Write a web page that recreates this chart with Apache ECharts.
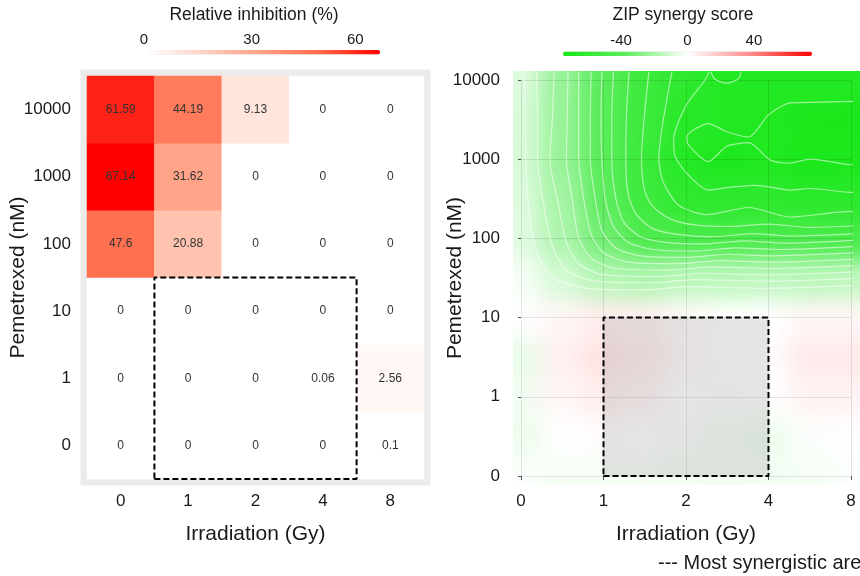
<!DOCTYPE html>
<html>
<head>
<meta charset="utf-8">
<script src="https://cdn.jsdelivr.net/npm/echarts@6/dist/echarts.min.js"></script>
<style>
  html, body { margin: 0; padding: 0; background: #ffffff; width: 860px; height: 576px; overflow: hidden; }
  #surfaceClip { position: absolute; left: 513px; top: 71px; width: 347px; height: 414px; overflow: hidden; }
  #surface { position: absolute; left: -513px; top: -71px; width: 960px; height: 576px; filter: blur(11px); }
  #main { position: absolute; left: 0; top: 0; width: 860px; height: 576px; }
</style>
</head>
<body>
<div id="surfaceClip"><div id="surface"></div></div>
<div id="main"></div>
<script>
// ---- dose levels ----
const irradiation = ['0', '1', '2', '4', '8'];              // Gy
const pemetrexed = ['0', '1', '10', '100', '1000', '10000'];  // nM

// ---- relative inhibition (%), rows = pemetrexed (low -> high), cols = irradiation ----
const inhibitionRow0 = [0, 0, 0, 0, 0.1];
const inhibitionRow1 = [0, 0, 0, 0.06, 2.56];
const inhibitionRow10 = [0, 0, 0, 0, 0];
const inhibitionRow100 = [47.6, 20.88, 0, 0, 0];
const inhibitionRow1000 = [67.14, 31.62, 0, 0, 0];
const inhibitionRow10000 = [61.59, 44.19, 9.13, 0, 0];
const inhibition = [inhibitionRow0, inhibitionRow1, inhibitionRow10, inhibitionRow100, inhibitionRow1000, inhibitionRow10000];
const inhibitionTicks = [0, 30, 60];
const inhibitionColors = ['#ffffff', '#ffcfbf', '#ff9e81', '#ff6746', '#ff0000'];

// ---- ZIP synergy landscape, sampled every half dose step ----
const zipGridX = ['-0.5', '0', '0.5', '1', '1.5', '2', '2.5', '3', '3.5', '4', '4.5'];
const zipGridY = ['-0.5', '0', '0.5', '1', '1.5', '2', '2.5', '3', '3.5', '4', '4.5', '5', '5.5'];
const zipScores = [
  [0, -1, -3, -1, -3, -1, -3, -1, -3, 0, 0],
  [0, -1, -2, -2, -2, -3, -3, -3, -2, -1, -1],
  [-1, -4, 0, 1, 0, -1, -3, -4, -1, 0, 0],
  [-1, -3, 3, 6, 4, 0, -1, 0, 4, 4, 4],
  [-3, -5, 5, 9, 7, 2, 0, 1, 7, 7, 7],
  [0, 0, 3, 6, 5, 2, 0, 0, 3, 3, 3],
  [0, -2, -10, -17, -19, -16, -16, -15, -16, -15, -15],
  [-1, -7, -19, -33, -46, -48, -49, -48, -48, -49, -49],
  [-1, -8, -21, -38, -54, -62, -63, -63, -64, -64, -64],
  [-2, -9, -24, -41, -56, -67, -72, -70, -73, -72, -72],
  [-2, -9, -24, -41, -55, -66, -68, -70, -72, -73, -73],
  [-2, -8, -24, -40, -54, -62, -69, -68, -68, -68, -68],
  [-2, -8, -24, -40, -54, -62, -69, -68, -68, -68, -68]
];
const synergyRange = [-75, 75];
const synergyTicks = [-40, 0, 40];
const synergyColors = ['#16e816', '#5eec5e', '#ffffff', '#ff8c8c', '#ff0000'];

// ---- ZIP contour lines (x = irradiation step, y = pemetrexed step), every 5 units ----
const contourLevels = [-70, -70, -65, -60, -55, -50, -45, -40, -35, -30, -25, -20, -15, -10];
const contourPaths = [
  [[4.1, 4.72], [3.99, 4.73], [3.62, 4.72], [3.26, 4.71], [3.0, 4.56], [2.76, 4.28], [2.49, 4.35], [2.27, 4.45], [2.01, 4.28], [2.03, 4.18], [2.27, 3.97], [2.49, 4.16], [2.76, 4.21], [3.02, 3.99], [3.26, 3.95], [3.5, 4.0], [3.75, 3.97], [3.99, 3.93], [4.1, 3.93]],
  [[2.3, 5.1], [2.35, 5.01], [2.49, 4.96], [2.63, 5.01], [2.67, 5.1]],
  [[2.28, 5.1], [2.23, 5.0], [1.99, 4.66], [1.85, 4.24], [1.87, 4.03], [2.01, 3.82], [2.27, 3.61], [2.57, 3.65], [2.82, 3.67], [3.01, 3.65], [3.26, 3.61], [3.5, 3.63], [4.01, 3.58], [4.1, 3.58]],
  [[1.83, 5.1], [1.81, 5.0], [1.71, 4.4], [1.67, 4.0], [1.72, 3.72], [1.91, 3.42], [2.25, 3.3], [2.76, 3.39], [3.26, 3.27], [3.99, 3.34], [4.1, 3.33]],
  [[1.55, 5.1], [1.5, 4.6], [1.46, 4.0], [1.5, 3.6], [1.6, 3.4], [1.8, 3.25], [2.1, 3.17], [2.5, 3.15], [3.0, 3.18], [3.5, 3.14], [4.1, 3.16]],
  [[1.31, 5.1], [1.28, 4.6], [1.27, 4.0], [1.3, 3.55], [1.4, 3.3], [1.6, 3.12], [1.9, 3.05], [2.3, 3.02], [2.8, 3.06], [3.3, 3.03], [4.1, 3.06]],
  [[1.12, 5.1], [1.1, 4.5], [1.1, 4.0], [1.15, 3.5], [1.25, 3.2], [1.45, 3.02], [1.75, 2.95], [2.2, 2.93], [2.7, 2.97], [3.2, 2.94], [4.1, 2.98]],
  [[0.98, 5.1], [0.97, 4.5], [0.98, 4.0], [1.02, 3.5], [1.12, 3.15], [1.3, 2.95], [1.6, 2.86], [2.1, 2.84], [2.6, 2.88], [3.1, 2.86], [4.1, 2.9]],
  [[0.85, 5.1], [0.84, 4.5], [0.84, 4.0], [0.9, 3.5], [0.98, 3.1], [1.15, 2.88], [1.45, 2.78], [2.0, 2.76], [2.5, 2.8], [3.0, 2.78], [4.1, 2.82]],
  [[0.7, 5.1], [0.7, 4.5], [0.7, 4.0], [0.76, 3.5], [0.85, 3.05], [1.0, 2.82], [1.3, 2.7], [1.9, 2.68], [2.4, 2.72], [3.0, 2.7], [4.1, 2.74]],
  [[0.57, 5.1], [0.56, 4.5], [0.55, 4.0], [0.62, 3.5], [0.7, 3.0], [0.85, 2.75], [1.15, 2.62], [1.8, 2.6], [2.3, 2.64], [3.0, 2.62], [4.1, 2.66]],
  [[0.4, 5.1], [0.38, 4.5], [0.35, 4.0], [0.45, 3.45], [0.55, 2.95], [0.7, 2.68], [1.0, 2.54], [1.7, 2.52], [2.2, 2.56], [3.0, 2.54], [4.1, 2.58]],
  [[0.19, 5.1], [0.2, 4.5], [0.2, 4.0], [0.28, 3.4], [0.38, 2.9], [0.55, 2.6], [0.9, 2.46], [1.6, 2.44], [2.1, 2.48], [3.0, 2.46], [4.1, 2.5]],
  [[0.04, 5.1], [0.05, 4.5], [0.06, 3.9], [0.1, 3.3], [0.2, 2.8], [0.4, 2.5], [0.8, 2.37], [1.5, 2.35], [2.0, 2.39], [3.0, 2.37], [4.1, 2.41]]
];

// ---- most synergistic area: irradiation 1–4 Gy, pemetrexed 0–10 nM ----
const synergyAreaDoses = ['1', '4'];
const synergyAreaConc = ['0', '10'];

// ---- shared look ----
const FONT = 'Liberation Sans';
const INK = '#1a1a1a';

const heatData = [];
inhibition.forEach((row, yi) => row.forEach((v, xi) => heatData.push([xi, yi, v])));
const inhibitionMax = Math.max(...inhibition.flat());

const surfData = [];
zipScores.forEach((row, yi) => row.forEach((v, xi) => surfData.push([xi, yi, v])));

const ax0 = irradiation.indexOf(synergyAreaDoses[0]);
const ax1 = irradiation.indexOf(synergyAreaDoses[1]);
const ay0 = pemetrexed.indexOf(synergyAreaConc[0]);
const ay1 = pemetrexed.indexOf(synergyAreaConc[1]);
// on the heatmap the area covers whole cells; on the landscape it spans dose points
const leftBox = [[ax0 - 0.5, ay0 - 0.5], [ax1 + 0.5, ay0 - 0.5], [ax1 + 0.5, ay1 + 0.5], [ax0 - 0.5, ay1 + 0.5], [ax0 - 0.5, ay0 - 0.5]];
const rightBox = [[ax0, ay0], [ax1, ay0], [ax1, ay1], [ax0, ay1], [ax0, ay0]];

// ---- smooth ZIP landscape (drawn underneath, softened) ----
const surf = echarts.init(document.getElementById('surface'), null, { renderer: 'canvas' });
surf.setOption({
  backgroundColor: 'transparent',
  animation: false,
  grid: { left: 459.1, top: 20.6, width: 453.75, height: 514.8, outerBoundsMode: 'none' },
  xAxis: { type: 'category', data: zipGridX, show: false },
  yAxis: { type: 'category', data: zipGridY, show: false },
  visualMap: { show: false, min: synergyRange[0], max: synergyRange[1], dimension: 2, inRange: { color: synergyColors } },
  series: [{ type: 'heatmap', data: surfData, itemStyle: { borderWidth: 0 }, emphasis: { disabled: true } }]
});

// ---- main figure ----
const dashed = { color: '#000000', width: 2, type: [6, 3] };
const tickText = { fontSize: 17, color: INK, fontFamily: FONT };
const nameText = { fontSize: 21, color: INK, fontFamily: FONT };

const series = [
  {
    type: 'heatmap', xAxisIndex: 0, yAxisIndex: 0, data: heatData,
    itemStyle: { borderWidth: 0 },
    label: { show: true, fontSize: 12, color: '#333333', fontFamily: FONT, formatter: p => String(p.value[2]) },
    emphasis: { disabled: true }
  },
  {
    type: 'line', xAxisIndex: 1, yAxisIndex: 1, data: leftBox, symbol: 'none',
    lineStyle: dashed, silent: true, clip: false, z: 5
  }
];
contourPaths.forEach((path, i) => {
  series.push({
    type: 'line', name: 'ZIP ' + contourLevels[i], xAxisIndex: 3, yAxisIndex: 3, data: path,
    symbol: 'none', smooth: 0.25, clip: false, silent: true,
    lineStyle: { color: 'rgba(255,255,255,0.55)', width: 1.2 }
  });
});
series.push({
  type: 'line', xAxisIndex: 3, yAxisIndex: 3, data: rightBox, symbol: 'none',
  lineStyle: dashed, silent: true, clip: false, z: 5,
  markArea: {
    silent: true,
    itemStyle: { color: 'rgba(170,170,170,0.3)', borderWidth: 0 },
    data: [[{ coord: rightBox[0] }, { coord: rightBox[2] }]]
  }
});

const main = echarts.init(document.getElementById('main'), null, { renderer: 'canvas' });
main.setOption({
  backgroundColor: 'transparent',
  animation: false,
  textStyle: { fontFamily: FONT },
  grid: [
    { left: 87, top: 76, width: 337, height: 403, show: true, backgroundColor: 'transparent', borderColor: '#ebebeb', borderWidth: 13, outerBoundsMode: 'none' },
    { left: 521, top: 80, width: 330, height: 396, outerBoundsMode: 'none' },
    { left: 148, top: 50, width: 311, height: 5, outerBoundsMode: 'none' },
    { left: 554.7, top: 51, width: 265.6, height: 5, outerBoundsMode: 'none' }
  ],
  xAxis: [
    {
      gridIndex: 0, type: 'category', data: irradiation, position: 'bottom', offset: 6,
      axisLine: { show: false },
      axisTick: { show: true, length: 4, alignWithLabel: true, lineStyle: { color: '#555555' } },
      axisLabel: Object.assign({ margin: 8 }, tickText),
      splitLine: { show: false },
      name: 'Irradiation (Gy)', nameLocation: 'middle', nameGap: 39, nameMoveOverlap: false, nameTextStyle: nameText
    },
    { gridIndex: 0, type: 'value', min: -0.5, max: 4.5, show: false },
    {
      gridIndex: 1, type: 'category', data: irradiation, boundaryGap: false, position: 'bottom', offset: 9,
      axisLine: { show: false },
      axisTick: { show: true, length: 4, lineStyle: { color: '#555555' } },
      axisLabel: Object.assign({ margin: 8 }, tickText),
      splitLine: { show: true, lineStyle: { color: 'rgba(0,0,0,0.1)', width: 1 } },
      name: 'Irradiation (Gy)', nameLocation: 'middle', nameGap: 39, nameMoveOverlap: false, nameTextStyle: nameText
    },
    { gridIndex: 1, type: 'value', min: 0, max: 4, show: false },
    {
      gridIndex: 2, type: 'value', min: 0, max: 90, interval: 30, position: 'top',
      axisLine: { show: false }, axisTick: { show: false }, splitLine: { show: false },
      axisLabel: { margin: 3, fontSize: 15, color: INK, fontFamily: FONT, alignMinLabel: 'right', formatter: v => inhibitionTicks.includes(v) ? String(v) : '' }
    },
    {
      gridIndex: 3, type: 'value', min: -80, max: 80, interval: 40, position: 'top',
      axisLine: { show: false }, axisTick: { show: false }, splitLine: { show: false },
      axisLabel: { margin: 3, fontSize: 15, color: INK, fontFamily: FONT, formatter: v => synergyTicks.includes(v) ? String(v) : '' }
    }
  ],
  yAxis: [
    {
      gridIndex: 0, type: 'category', data: pemetrexed, offset: 7,
      axisLine: { show: false },
      axisTick: { show: true, length: 3, alignWithLabel: true, lineStyle: { color: '#555555' } },
      axisLabel: Object.assign({ margin: 9 }, tickText),
      splitLine: { show: false },
      name: 'Pemetrexed (nM)', nameLocation: 'middle', nameGap: 51, nameMoveOverlap: false, nameTextStyle: nameText
    },
    { gridIndex: 0, type: 'value', min: -0.5, max: 5.5, show: false },
    {
      gridIndex: 1, type: 'category', data: pemetrexed, boundaryGap: false, offset: 9,
      axisLine: { show: false },
      axisTick: { show: true, length: 3, lineStyle: { color: '#555555' } },
      axisLabel: Object.assign({ margin: 12 }, tickText),
      splitLine: { show: true, lineStyle: { color: 'rgba(0,0,0,0.1)', width: 1 } },
      name: 'Pemetrexed (nM)', nameLocation: 'middle', nameGap: 46, nameMoveOverlap: false, nameTextStyle: nameText
    },
    { gridIndex: 1, type: 'value', min: 0, max: 5, show: false },
    { gridIndex: 2, type: 'value', min: 0, max: 1, show: false },
    { gridIndex: 3, type: 'value', min: 0, max: 1, show: false }
  ],
  visualMap: [
    {
      type: 'continuous', seriesIndex: 0, dimension: 2, min: 0, max: inhibitionMax,
      orient: 'horizontal', left: 148, top: 50, itemWidth: 4.5, itemHeight: 232, padding: 0,
      calculable: false, hoverLink: false, inRange: { color: inhibitionColors }
    },
    {
      type: 'continuous', seriesIndex: [], min: synergyRange[0], max: synergyRange[1],
      orient: 'horizontal', left: 563, top: 51.5, itemWidth: 4.5, itemHeight: 249, padding: 0,
      calculable: false, hoverLink: false, inRange: { color: synergyColors }
    }
  ],
  graphic: [
    { type: 'text', x: 254, y: 15, style: { text: 'Relative inhibition (%)', fontSize: 17.5, fontFamily: FONT, fill: INK, align: 'center', verticalAlign: 'middle' } },
    { type: 'text', x: 683, y: 15, style: { text: 'ZIP synergy score', fontSize: 17.5, fontFamily: FONT, fill: INK, align: 'center', verticalAlign: 'middle' } },
    { type: 'text', x: 658, y: 563, style: { text: '--- Most synergistic area', fontSize: 20, fontFamily: FONT, fill: INK, align: 'left', verticalAlign: 'middle' } }
  ],
  series: series
});
</script>
</body>
</html>
